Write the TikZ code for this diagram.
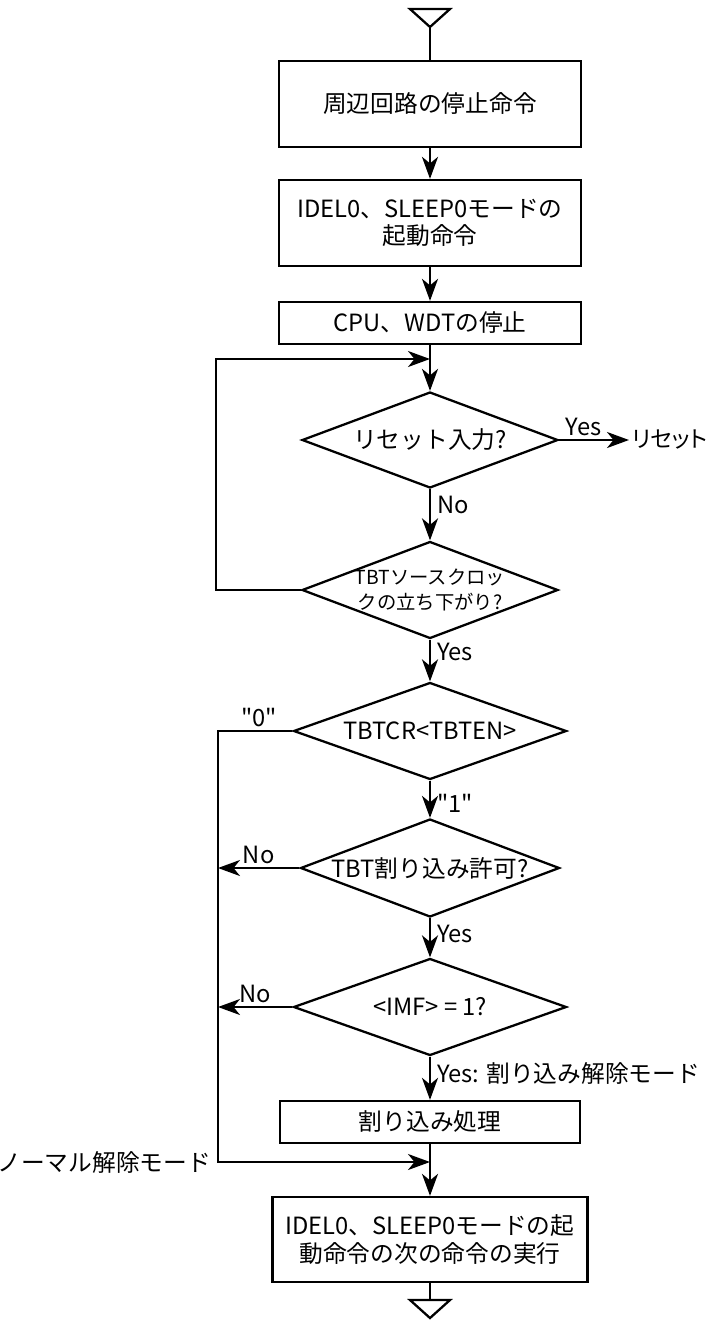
\documentclass[tikz,border=0pt]{standalone}
\usepackage{fontspec}
\setmainfont{Noto Sans CJK JP}
\newfontfamily\kanafont[RawFeature=+palt]{Noto Sans CJK JP}
\usetikzlibrary{shapes.geometric,arrows.meta}
\begin{document}
\begin{tikzpicture}[
  line width=1.3pt,
  font=\fontsize{13.5}{15.5}\selectfont,
  proc/.style={shape=rectangle,draw=black,fill=white,minimum width=6.04cm,align=center,inner sep=2pt},
  decision/.style={shape=diamond,draw=black,fill=white,inner sep=0pt},
  arrow/.style={-{Stealth[length=0.44cm,width=0.32cm,inset=0.13cm]}},
  lab/.style={inner sep=2pt}
]
\useasboundingbox (0,0) rectangle (14.2,-26.4);

% start / end marks
\draw (8.2,-0.18) -- (9.0,-0.18) -- (8.6,-0.54) -- cycle;
\coordinate (start) at (8.6,-0.54);
\draw (8.2,-26.0) -- (9.0,-26.0) -- (8.6,-26.36) -- cycle;
\coordinate (end) at (8.6,-26.0);

\node[proc,minimum height=1.72cm] (stop) at (8.6,-2.08) {周辺回路の停止命令};
\node[proc,minimum height=1.72cm] (boot) at (8.6,-4.46) {IDEL0、SLEEP0モードの\\起動命令};
\node[proc,minimum height=0.84cm] (cpu) at (8.6,-6.46) {CPU、WDTの停止};
\coordinate (m1) at (8.6,-7.18);
\node[decision,minimum width=5.12cm,minimum height=1.92cm,label={center:{リセット入力?}}] (reset) at (8.6,-8.8) {};
\node[anchor=west,inner sep=1pt,font=\kanafont\fontsize{13}{15}\selectfont] (rst) at (12.58,-8.8) {リセット};
\node[decision,minimum width=5.12cm,minimum height=1.94cm,
  label={[align=center,font=\fontsize{11}{14}\selectfont]center:TBTソースクロッ\\クの立ち下がり?}] (clk) at (8.6,-11.8) {};
\coordinate (loop) at (4.32,-11.8);
\node[decision,minimum width=5.46cm,minimum height=1.94cm,label={center:{TBTCR<TBTEN>}}] (ten) at (8.6,-14.62) {};
\node[decision,minimum width=5.18cm,minimum height=1.96cm,label={center:{TBT割り込み許可?}}] (ie) at (8.6,-17.36) {};
\node[decision,minimum width=5.46cm,minimum height=1.94cm,label={center:{<IMF> = 1?}}] (imf) at (8.6,-20.14) {};
\node[proc,minimum width=6.0cm,minimum height=0.84cm] (isr) at (8.6,-22.44) {割り込み処理};
\coordinate (m2) at (8.6,-23.24);
\node[proc,minimum width=6.3cm,minimum height=1.7cm] (exec) at (8.6,-24.79) {IDEL0、SLEEP0モードの起\\動命令の次の命令の実行};
\coordinate (c0) at (4.36,-14.62);
\coordinate (c1) at (4.36,-23.24);

\draw (start) -- (stop);
\path [arrow] (stop) edge (boot);
\path [arrow] (boot) edge (cpu);
\path [arrow] (cpu) edge (reset);
\path [arrow] (reset.east) edge node[lab,above,pos=0.35] {Yes} (rst.west);
\path [arrow] (reset) edge node[right,pos=0.3] {No} (clk);
\draw [arrow] (clk.west) -- (loop) |- (m1);
\path [arrow] (clk) edge node[right,pos=0.3] {Yes} (ten);
\draw [arrow] (ten.west) -- node[lab,above,pos=0.45] {\kanafont"0"} (c0) -- (c1) -- (m2);
\node[left] (normal) at (c1) {ノーマル解除モード};
\path [arrow] (ten) edge node[right,pos=0.6] {\kanafont"1"} (ie);
\draw [arrow] (ie.west) -- node[lab,above] {No} (ie.west -| c0);
\path [arrow] (ie) edge node[right,pos=0.4] {Yes} (imf);
\draw [arrow] (imf.west) -- node[lab,above] {No} (imf.west -| c0);
\path [arrow] (imf) edge node[right,pos=0.38] {Yes: 割り込み解除モード} (isr);
\path [arrow] (isr) edge (exec);
\draw (exec) -- (end);
\end{tikzpicture}
\end{document}
